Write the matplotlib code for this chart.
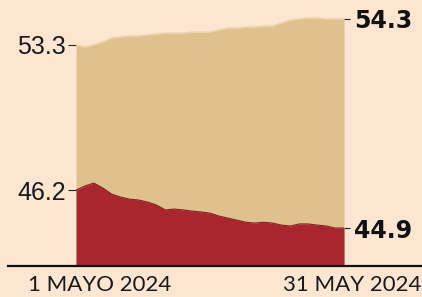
import matplotlib
matplotlib.use("Agg")
import matplotlib.pyplot as plt
from matplotlib.lines import Line2D
import numpy as np

days = list(range(1, 32))
red_vals = [46.20, 46.34, 46.44, 46.27, 46.06, 45.96, 45.89, 45.86, 45.79, 45.69,
            45.52, 45.55, 45.52, 45.48, 45.45, 45.41, 45.31, 45.24, 45.17, 45.10,
            45.07, 45.10, 45.07, 45.00, 44.97, 45.04, 45.04, 45.00, 44.97, 44.90, 44.90]
tan_vals = [53.30, 53.22, 53.30, 53.42, 53.57, 53.61, 53.65, 53.65, 53.68, 53.72,
            53.76, 53.76, 53.76, 53.80, 53.80, 53.80, 53.88, 53.95, 53.95, 53.99,
            53.99, 54.03, 54.03, 54.15, 54.26, 54.30, 54.34, 54.34, 54.30, 54.30, 54.30]
left_labels = {"tan": 53.3, "red": 46.2}
right_labels = {"tan": 54.3, "red": 44.9}
start_label = "1 MAYO 2024"
end_label = "31 MAY 2024"

BG = "#FCE6D2"
TAN = "#DFC18E"
RED = "#AA262E"

W, H = 422, 297
fig = plt.figure(figsize=(W / 100, H / 100), dpi=100, facecolor=BG)

left, right = 76 / W, 344 / W
bottom = (H - 266) / H
pos = [left, bottom, right - left, 1 - bottom]

ax_tan = fig.add_axes(pos)
ax_red = fig.add_axes(pos)
for ax in (ax_tan, ax_red):
    ax.set_facecolor("none")
    for s in ax.spines.values():
        s.set_visible(False)
    ax.set_xlim(days[0], days[-1])
    ax.set_xticks([])
    ax.margins(x=0)

tan_lo, tan_hi = 44.8, 55.03
red_lo, red_hi = 43.6, 52.71
ax_tan.set_ylim(tan_lo, tan_hi)
ax_red.set_ylim(red_lo, red_hi)

ax_tan.fill_between(days, tan_lo, tan_vals, color=TAN, lw=0)
ax_tan.plot(days, tan_vals, color="#EBD3A8", lw=1.0)
ax_red.fill_between(days, red_lo, red_vals, color=RED, lw=0)
ax_red.plot(days, red_vals, color="#8A1C22", lw=0.8)

lab_font = dict(family="Liberation Sans", size=18)
for ax, key in ((ax_tan, "tan"), (ax_red, "red")):
    v = left_labels[key]
    ax.set_yticks([v])
    ax.set_yticklabels([f"{v:.1f}"], **lab_font)
    ax.tick_params(axis="y", length=6, width=0.8, color="#222222", pad=1,
                   labelcolor="#1a1a1a")
    sec = ax.secondary_yaxis("right")
    for s in sec.spines.values():
        s.set_visible(False)
    rv = right_labels[key]
    sec.set_yticks([rv])
    sec.set_yticklabels([f"{rv:.1f}"], family="DejaVu Sans", weight="bold", size=17)
    sec.tick_params(axis="y", length=4, width=0.8, color="#222222", pad=3,
                    labelcolor="#111111")

fig.add_artist(Line2D([8 / W, 1.0], [(H - 266) / H] * 2, color="#111111", lw=1.6))

fig.text(28 / W, (H - 285) / H, start_label, family="Lato", weight="normal",
         size=16, color="#1a1a1a", ha="left", va="center")
fig.text(421 / W, (H - 285) / H, end_label, family="Lato", weight="normal",
         size=16, color="#1a1a1a", ha="right", va="center")

fig.savefig("out.png", dpi=100, facecolor=BG)
